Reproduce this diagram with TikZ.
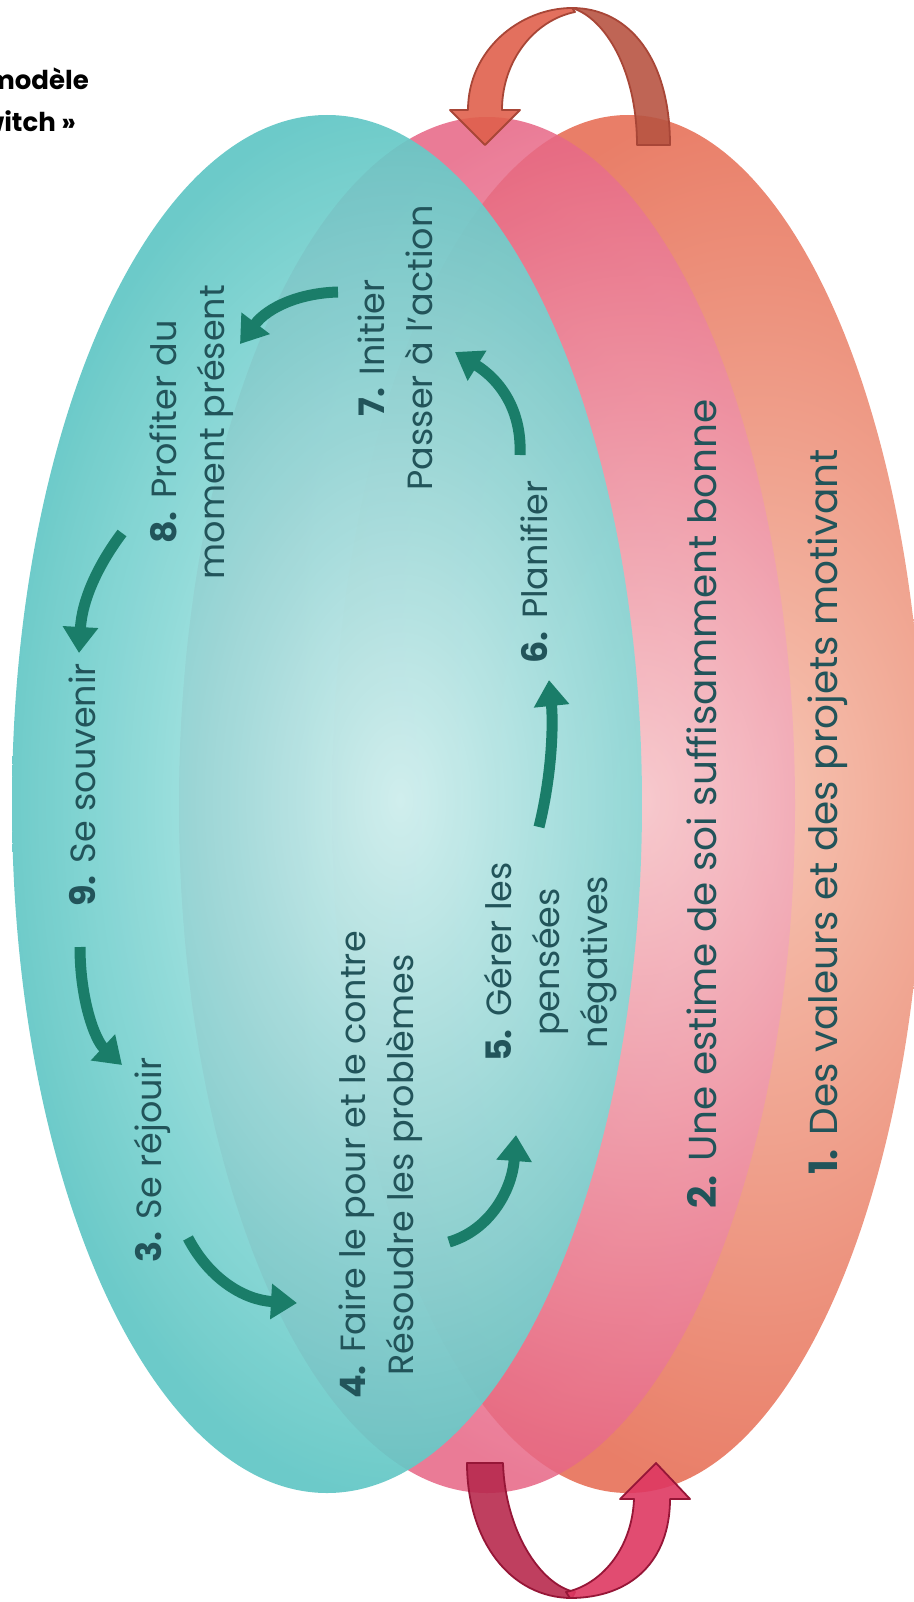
\documentclass[tikz,border=0pt]{standalone}
\usepackage{fontspec}
\setmainfont{Poppins}
\usepackage{tikz}
\usetikzlibrary{arrows.meta,positioning}
\definecolor{tealD}{RGB}{96,198,196}
\definecolor{tealL}{RGB}{206,246,244}
\definecolor{pinkD}{RGB}{230,100,132}
\definecolor{pinkL}{RGB}{248,206,214}
\definecolor{oranD}{RGB}{233,126,104}
\definecolor{oranL}{RGB}{246,196,178}
\definecolor{cycG}{RGB}{26,125,105}
\definecolor{txtD}{RGB}{34,84,90}
\definecolor{topL}{RGB}{224,96,76}
\definecolor{topR}{RGB}{184,84,66}
\definecolor{topB}{RGB}{168,70,55}
\definecolor{botL}{RGB}{184,42,78}
\definecolor{botR}{RGB}{222,56,98}
\definecolor{botB}{RGB}{150,22,55}

\begin{document}
\begin{tikzpicture}[
  x=1pt,y=-1pt,
  every node/.style={align=center,text=txtD,inner sep=0pt},
  lbl/.style={rotate=90,font=\fontsize{35}{48}\selectfont},
  ttl/.style={anchor=base east,text=black,font=\bfseries\fontsize{26}{32}\selectfont},
  cyc/.style={line width=11pt,cycG,-{Triangle[length=26pt,width=34pt]}},
  bigarr/.style={line width=1.8pt,line join=round}
]
\useasboundingbox (0,0) rectangle (913,1602);

% Orange ellipse
\begin{scope}
  \clip (628,804) ellipse (296 and 689);
  \shade[inner color=oranL,outer color=oranD] (330,100) rectangle (1190,1500);
\end{scope}

% Pink ellipse
\begin{scope}
  \clip (487,805) ellipse (308 and 688);
  \shade[inner color=pinkL,outer color=pinkD,opacity=.85] (170,100) rectangle (1110,1500);
\end{scope}

% Teal ellipse
\begin{scope}
  \clip (327,804) ellipse (315 and 689);
  \shade[inner color=tealL,outer color=tealD,opacity=.92] (0,100) rectangle (800,1500);
\end{scope}

% Top arrow
\draw[bigarr,draw=topB,fill=topR,fill opacity=.9] (637,145) -- (670,145)
  .. controls (670,60) and (630,8) .. (572,8)
  .. controls (605,18) and (637,70) .. (637,145) -- cycle;
\draw[bigarr,draw=topB,fill=topL,fill opacity=.9] (502,110)
  .. controls (502,60) and (535,20) .. (575,12) -- (572,8)
  .. controls (520,8) and (468,50) .. (468,110)
  -- (450,110) -- (485,145) -- (520,110) -- cycle;

% Bottom arrow
\draw[bigarr,draw=botB,fill=botL,fill opacity=.9] (467,1463) -- (503,1463)
  .. controls (505,1530) and (540,1585) .. (575,1592) -- (572,1598)
  .. controls (510,1598) and (467,1540) .. (467,1463) -- cycle;
\draw[bigarr,draw=botB,fill=botR,fill opacity=.9] (570,1598)
  .. controls (632,1598) and (670,1560) .. (670,1499)
  -- (690,1499) -- (656,1463) -- (620,1499) -- (634,1499)
  .. controls (632,1550) and (600,1585) .. (566,1592) -- cycle;

% Title
\node[ttl] (ttl1) at (89,90) {Le modèle};
\node[ttl] (ttl2) at (76,132) {« Switch »};

% Outer labels
\node[lbl,anchor=base,font=\fontsize{39}{45}\selectfont] (valeurs) at (837,812)
  {\textbf{1.} Des valeurs et des projets motivant};
\node[lbl,anchor=base,font=\fontsize{39}{50}\selectfont] (estime) at (716,804)
  {\textbf{2.} Une estime de soi suffisamment bonne};

% Cycle labels
\node[lbl,anchor=base] (rejouir) at (161,1160) {\textbf{3.} Se réjouir};
\node[lbl] (contre) at (381,1165)
  {\textbf{4.} Faire le pour et le contre\\Résoudre les problèmes};
\node[lbl] (gerer) at (551,962) {\textbf{5.} Gérer les\\pensées\\négatives};
\node[lbl,anchor=base] (planif) at (547,572) {\textbf{6.} Planifier};
\node[lbl] (initier) at (395,348) {\textbf{7.} Initier\\Passer à l’action};
\node[lbl] (profiter) at (192,432) {\textbf{8.} Profiter du\\moment présent};
\node[lbl,anchor=base] (souvenir) at (95,785) {\textbf{9.} Se souvenir};

% Cycle arrows
\coordinate (a78s) at (338,292); \coordinate (a78e) at (240,344);
\coordinate (a89s) at (122,533); \coordinate (a89e) at (79,653);
\coordinate (a93s) at (80,947);  \coordinate (a93e) at (122,1065);
\coordinate (a34s) at (188,1238); \coordinate (a34e) at (297,1303);
\coordinate (a45s) at (449,1242); \coordinate (a45e) at (516,1135);
\coordinate (a56s) at (539,827); \coordinate (a56e) at (549,680);
\coordinate (a67s) at (520,455); \coordinate (a67e) at (455,352);
\draw[cyc] (a78s) .. controls (300,293) and (268,307) .. (a78e);
\draw[cyc] (a89s) .. controls (98,565) and (82,600) .. (a89e);
\draw[cyc] (a93s) .. controls (80,1000) and (95,1040) .. (a93e);
\draw[cyc] (a34s) .. controls (210,1280) and (245,1300) .. (a34e);
\draw[cyc] (a45s) .. controls (490,1230) and (512,1190) .. (a45e);
\draw[cyc] (a56s) .. controls (553,770) and (553,720) .. (a56e);
\draw[cyc] (a67s) .. controls (522,410) and (500,380) .. (a67e);
\end{tikzpicture}
\end{document}
